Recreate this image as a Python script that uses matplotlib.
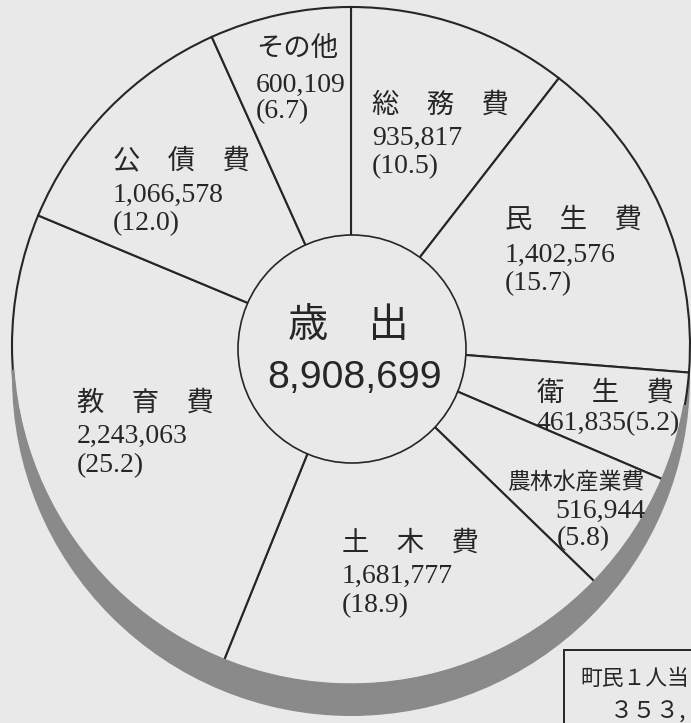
import matplotlib
matplotlib.use('Agg')
import matplotlib.pyplot as plt
from matplotlib.patches import Circle, Arc, Rectangle

# ---- data ----
categories = ['総務費', '民生費', '衛生費', '農林水産業費', '土木費', '教育費', '公債費', 'その他']
amounts = [935817, 1402576, 461835, 516944, 1681777, 2243063, 1066578, 600109]
shares = [10.5, 15.7, 5.2, 5.8, 18.9, 25.2, 12.0, 6.7]
total_title = ['歳', '出']
total_amount = 8908699
per_capita_title = '町民１人当'
per_capita_value = '３５３,'

# ---- style / layout ----
W, H = 691, 723
BG = '#e9e9e9'
INK = '#262626'
SHADOW = '#8a8a8a'
SERIF = ['Liberation Serif', 'Noto Sans CJK JP']
JSANS = ['Noto Sans CJK JP', 'DejaVu Sans']


def Y(y):
    return H - y


fig = plt.figure(figsize=(W / 100, H / 100), dpi=100, facecolor=BG)
ax = fig.add_axes([0, 0, 1, 1])
ax.set_facecolor(BG)

cx, cy, R = 351, 346, 339
# drop shadow
ax.add_patch(Circle((cx, Y(cy + 31)), R, fc=SHADOW, ec='none', zorder=0.5))
ax.pie(amounts, startangle=90, counterclock=False, center=(cx, Y(cy)), radius=R,
       wedgeprops=dict(facecolor=BG, edgecolor=INK, linewidth=1.5), frame=False)
# hide outline where the shadow is
ax.add_patch(Arc((cx, Y(cy)), 2 * R, 2 * R, theta1=184, theta2=350,
                 color=SHADOW, lw=2.4, zorder=2))
# centre circle
ax.add_patch(Circle((352, Y(349)), 114, fc=BG, ec=INK, lw=1.2, zorder=3))

ax.text(348, Y(337), '　'.join(total_title), ha='center', va='baseline',
        fontsize=29, family=JSANS, color=INK, zorder=4)
ax.text(355, Y(388), f'{total_amount:,}', ha='center', va='baseline',
        fontsize=28.2, family=['Liberation Sans'], color=INK, zorder=4)

# label layout: (name_x, name_y, value_x, value_y, value_ha, pct_x, pct_y)
layout = {
    '総務費': (372, 113, 372, 145, 'left', 372, 173),
    '民生費': (505, 228, 505, 262, 'left', 505, 290),
    '衛生費': (537, 401, 537, 430, 'left', None, None),
    '農林水産業費': (507, 490, 645, 518, 'right', 557, 545),
    '土木費': (342, 551, 342, 583, 'left', 342, 612),
    '教育費': (77, 411, 77, 443, 'left', 77, 472),
    '公債費': (113, 168, 113, 202, 'left', 113, 230),
    'その他': (256, 56, 256, 92, 'left', 256, 118),
}

for name, amt, pct in zip(categories, amounts, shares):
    nx, ny, vx, vy, vha, px, py = layout[name]
    if len(name) == 3 and name != 'その他':
        shown = '　'.join(name)
        nsize = 19.7
    else:
        shown = name
        nsize = 16.5 if len(name) > 3 else 19.7
    ax.text(nx, Y(ny), shown, ha='left', va='baseline', fontsize=nsize,
            family=SERIF, color=INK, zorder=4)
    if px is None:
        ax.text(vx, Y(vy), f'{amt:,}({pct})', ha=vha, va='baseline',
                fontsize=20, family=SERIF, color=INK, zorder=4)
    else:
        ax.text(vx, Y(vy), f'{amt:,}', ha=vha, va='baseline',
                fontsize=20, family=SERIF, color=INK, zorder=4)
        ax.text(px, Y(py), f'({pct})', ha='left', va='baseline',
                fontsize=20, family=SERIF, color=INK, zorder=4)

# per-capita box (runs off the page edge)
ax.add_patch(Rectangle((564, Y(650) - 200), 300, 200, fc=BG, ec=INK, lw=1.4, zorder=3))
ax.text(580, Y(685), per_capita_title, ha='left', va='baseline', fontsize=15.7,
        family=JSANS, color=INK, zorder=4)
ax.text(610, Y(719), per_capita_value, ha='left', va='baseline', fontsize=16.8,
        family=JSANS, color=INK, zorder=4)

ax.set_aspect('auto')
ax.set_xlim(0, W)
ax.set_ylim(0, H)
ax.axis('off')

fig.savefig('out.png', dpi=100, facecolor=BG)
